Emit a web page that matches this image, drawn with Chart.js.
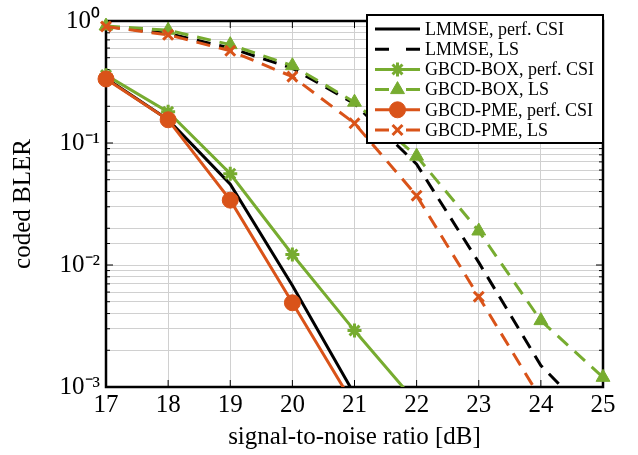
<!DOCTYPE html>
<html>
<head>
<meta charset="utf-8">
<script src="https://cdn.jsdelivr.net/npm/chart.js@4/dist/chart.umd.min.js"></script>
<style>
html,body{margin:0;padding:0;background:#fff;}
#wrap{width:638px;height:455px;}
</style>
</head>
<body>
<div id="wrap"><canvas id="c" width="638" height="455"></canvas></div>
<script>
// ---- data ----
const snr = [17, 18, 19, 20, 21, 22, 23, 24, 25];
const lmmsePerf = [0.34, 0.155, 0.046, 0.0068, 0.00087, null, null, null, null];
const lmmseLS   = [0.90, 0.79, 0.60, 0.41, 0.21, 0.067, 0.0105, 0.0015, 0.00045];
const boxPerf   = [0.36, 0.18, 0.056, 0.0122, 0.0029, 0.00074, null, null, null];
const boxLS     = [0.91, 0.84, 0.64, 0.43, 0.216, 0.078, 0.019, 0.0035, 0.0012];
const pmePerf   = [0.335, 0.155, 0.034, 0.0049, 0.0007, null, null, null, null];
const pmeLS     = [0.90, 0.77, 0.57, 0.35, 0.145, 0.037, 0.0055, 0.0008, null];
const seriesNames = ['LMMSE, perf. CSI', 'LMMSE, LS', 'GBCD-BOX, perf. CSI', 'GBCD-BOX, LS', 'GBCD-PME, perf. CSI', 'GBCD-PME, LS'];
const yTickLabels = {'1': '10\u2070', '0.1': '10\u207B\u00B9', '0.01': '10\u207B\u00B2', '0.001': '10\u207B\u00B3'};

const GREEN = '#77ac30', ORANGE = '#d95319', BLACK = '#000000';
const FONT = "'Liberation Serif', 'Times New Roman', serif";
const dash = [14, 9];
const clipBox = {left: 14, top: 14, right: 14, bottom: 0};

function ds(label, data, color, dashed, style, radius, bw, order) {
  return {
    label, data, borderColor: color, backgroundColor: color,
    borderWidth: 3, borderDash: dashed ? dash : [],
    pointStyle: style || 'circle', pointRadius: style ? radius : 0,
    pointBorderWidth: bw, pointBackgroundColor: color, pointBorderColor: color,
    pointHoverRadius: style ? radius : 0,
    tension: 0, spanGaps: false, clip: clipBox, order
  };
}

const datasets = [
  ds(seriesNames[0], lmmsePerf, BLACK, false, null, 0, 0, 6),
  ds(seriesNames[1], lmmseLS, BLACK, true, null, 0, 0, 5),
  ds(seriesNames[2], boxPerf, GREEN, false, 'star', 7, 3, 4),
  ds(seriesNames[3], boxLS, GREEN, true, 'triangle', 8, 1, 3),
  ds(seriesNames[4], pmePerf, ORANGE, false, 'circle', 8, 1, 2),
  ds(seriesNames[5], pmeLS, ORANGE, true, 'crossRot', 7, 3, 1)
];

const framePlugin = {
  id: 'frame',
  beforeDatasetsDraw(chart) {
    const {ctx, chartArea: a, scales} = chart;
    ctx.save();
    ctx.strokeStyle = '#000';
    ctx.lineWidth = 1;
    scales.y.ticks.forEach(t => {
      const y = scales.y.getPixelForValue(t.value);
      const major = Math.abs(Math.log10(t.value) - Math.round(Math.log10(t.value))) < 1e-6;
      const len = major ? 7 : 4;
      ctx.beginPath();
      ctx.moveTo(a.left, y); ctx.lineTo(a.left + len, y);
      ctx.moveTo(a.right, y); ctx.lineTo(a.right - len, y);
      ctx.stroke();
    });
    scales.x.ticks.forEach(t => {
      const x = scales.x.getPixelForValue(t.value);
      ctx.beginPath();
      ctx.moveTo(x, a.bottom); ctx.lineTo(x, a.bottom - 7);
      ctx.moveTo(x, a.top); ctx.lineTo(x, a.top + 7);
      ctx.stroke();
    });
    ctx.lineWidth = 2.5;
    ctx.strokeRect(a.left, a.top, a.right - a.left, a.bottom - a.top);
    ctx.restore();
  },
  afterDatasetsDraw(chart) {
    const {ctx} = chart;
    const bx = 367, by = 15, bw = 236, bh = 128;
    ctx.save();
    ctx.fillStyle = '#fff';
    ctx.fillRect(bx, by, bw, bh);
    ctx.strokeStyle = '#000';
    ctx.lineWidth = 2;
    ctx.strokeRect(bx, by, bw, bh);
    chart.data.datasets.forEach((d, i) => {
      const y = 29 + i * 20.2;
      ctx.save();
      ctx.strokeStyle = d.borderColor;
      ctx.lineWidth = 3;
      ctx.beginPath();
      if (d.borderDash && d.borderDash.length) {
        ctx.moveTo(375, y); ctx.lineTo(389, y);
        ctx.moveTo(406, y); ctx.lineTo(420, y);
      } else {
        ctx.moveTo(375, y); ctx.lineTo(420, y);
      }
      ctx.stroke();
      if (d.pointRadius > 0) {
        ctx.fillStyle = d.pointBackgroundColor;
        ctx.strokeStyle = d.pointBorderColor;
        ctx.lineWidth = d.pointBorderWidth;
        Chart.helpers.drawPoint(ctx, {pointStyle: d.pointStyle, radius: d.pointRadius, borderWidth: d.pointBorderWidth, rotation: 0}, 397.5, y);
      }
      ctx.restore();
      ctx.fillStyle = '#000';
      ctx.font = "18px " + FONT;
      ctx.textBaseline = 'middle';
      ctx.textAlign = 'left';
      ctx.fillText(d.label, 425, y + 1);
    });
    ctx.restore();
  }
};

new Chart(document.getElementById('c'), {
  type: 'line',
  data: { labels: snr, datasets },
  options: {
    responsive: false,
    animation: false,
    events: [],
    layout: { padding: { top: 14, right: 35, left: 0, bottom: 0 } },
    plugins: { legend: { display: false }, tooltip: { enabled: false } },
    scales: {
      x: {
        type: 'linear', min: 17, max: 25,
        ticks: { stepSize: 1, color: '#000', font: { family: FONT, size: 25 }, padding: 3, maxRotation: 0 },
        grid: { color: '#d0d0d0', lineWidth: 1, drawTicks: false },
        border: { display: false },
        title: { display: true, text: 'signal-to-noise ratio [dB]', color: '#000', font: { family: FONT, size: 25 }, padding: { top: 0, bottom: 3 } },
        afterFit(s) { s.height = 68; }
      },
      y: {
        type: 'logarithmic', min: 0.001, max: 1,
        ticks: {
          color: '#000', font: { family: FONT, size: 25 }, padding: 6, autoSkip: false,
          callback(v) { return yTickLabels[String(Number(v))] || ''; }
        },
        grid: { color: '#d0d0d0', lineWidth: 1, drawTicks: false },
        border: { display: false },
        title: { display: true, text: 'coded BLER', color: '#000', font: { family: FONT, size: 25 }, padding: { top: 8, bottom: 0 } },
        afterFit(s) { s.width = 106; }
      }
    }
  },
  plugins: [framePlugin]
});
</script>
</body>
</html>
